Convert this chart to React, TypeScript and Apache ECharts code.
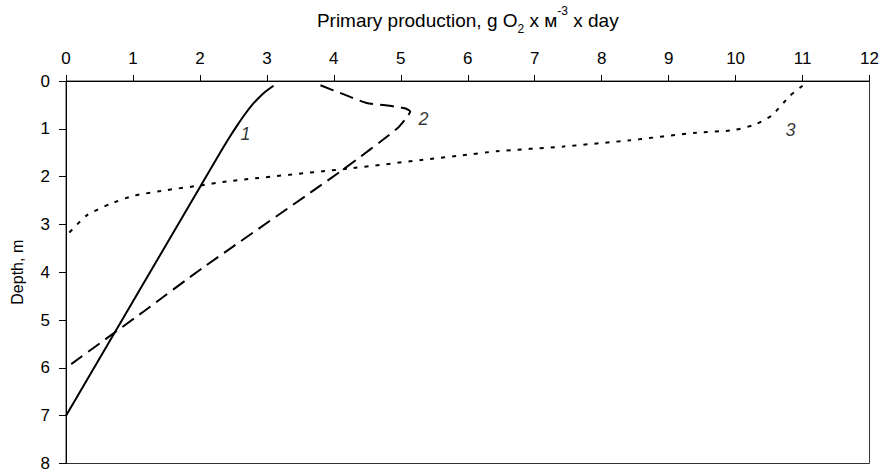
import React, { useEffect, useRef } from "react";
import * as echarts from "echarts";

const xTicks = [0, 12, 1];
const yTicks = [0, 8, 1];

// [production, depth]
const curve1: number[][] = [
  [3.1, 0.1], [2.98, 0.22], [2.88, 0.35], [2.78, 0.5], [2.68, 0.68],
  [2.58, 0.88], [2.49, 1.07], [2.4, 1.27], [2.31, 1.48], [0, 7],
];
const curve2: number[][] = [
  [3.8, 0.09], [4.15, 0.28], [4.49, 0.46], [4.84, 0.52], [5.06, 0.57],
  [5.14, 0.64], [5.1, 0.74], [4.94, 1.0], [4.14, 1.85], [2.05, 3.9],
  [1.16, 4.82], [0, 6],
];
const curve3: number[][] = [
  [11.0, 0.1], [10.81, 0.31], [10.54, 0.72], [10.29, 0.91], [9.96, 1.03],
  [9.42, 1.08], [8.42, 1.24], [7.43, 1.37], [6.43, 1.47], [5.89, 1.56],
  [5.44, 1.63], [4.29, 1.82], [2.4, 2.1], [1.98, 2.19], [1.51, 2.28],
  [1.01, 2.4], [0.66, 2.57], [0.31, 2.81], [0.04, 3.18], [0, 3.22],
];
const curveLabels = [
  { name: "1", value: [2.68, 1.11] },
  { name: "2", value: [5.34, 0.79] },
  { name: "3", value: [10.82, 1.03] },
];

const FONT = "'Liberation Sans', Arial, sans-serif";

export default function App() {
  const ref = useRef<HTMLDivElement>(null);
  useEffect(() => {
    if (!ref.current) return;
    const chart = echarts.init(ref.current, undefined, { renderer: "svg" });
    const lineBase = { type: "line", symbol: "none", smooth: 0.2, silent: true };
    chart.setOption({
      animation: false,
      backgroundColor: "#fff",
      textStyle: { fontFamily: FONT },
      grid: {
        left: 66, right: 12, top: 75, bottom: 7,
        show: true, borderColor: "#333", borderWidth: 1,
      },
      xAxis: {
        type: "value", position: "top",
        min: xTicks[0], max: xTicks[1], interval: xTicks[2],
        name: "{a|Primary production, g O}{sub|2}{a| x м}{sup|-3}{a| x day}",
        nameLocation: "middle", nameGap: 50,
        nameTextStyle: {
          rich: {
            a: { fontSize: 19, color: "#000", fontFamily: FONT, lineHeight: 22 },
            sub: { fontSize: 12, color: "#000", fontFamily: FONT, lineHeight: 22, verticalAlign: "bottom", padding: [0, 0, -4, 0] },
            sup: { fontSize: 12, color: "#000", fontFamily: FONT, lineHeight: 22, verticalAlign: "top", padding: [-4, 0, 0, 0] },
          },
        },
        axisLine: { show: true, lineStyle: { color: "#000", width: 1 } },
        axisTick: { show: true, inside: false, length: 6, lineStyle: { color: "#000" } },
        axisLabel: { margin: 14, fontSize: 17, color: "#000", fontFamily: FONT },
        splitLine: { show: false },
      },
      yAxis: {
        type: "value", inverse: true,
        min: yTicks[0], max: yTicks[1], interval: yTicks[2],
        name: "Depth, m", nameLocation: "middle", nameGap: 41, nameRotate: 90,
        nameTextStyle: { fontSize: 16, color: "#000", fontFamily: FONT },
        axisLine: { show: true, lineStyle: { color: "#000", width: 1 } },
        axisTick: { show: true, inside: false, length: 7, lineStyle: { color: "#000" } },
        axisLabel: { margin: 16, fontSize: 17, color: "#000", fontFamily: FONT },
        splitLine: { show: false },
      },
      series: [
        { ...lineBase, name: "1", data: curve1, lineStyle: { color: "#000", width: 2, type: "solid" } },
        { ...lineBase, name: "2", data: curve2, lineStyle: { color: "#000", width: 2, type: [14, 7] } },
        { ...lineBase, name: "3", data: curve3, lineStyle: { color: "#000", width: 2, type: [4, 7] } },
        {
          type: "scatter", name: "labels", data: curveLabels, symbolSize: 0, silent: true,
          label: {
            show: true, position: "inside", formatter: "{b}",
            fontSize: 18, fontStyle: "italic", color: "#000", fontFamily: FONT,
          },
        },
      ],
    });
    return () => chart.dispose();
  }, []);
  return (
    <div
      ref={ref}
      style={{ position: "fixed", left: 0, top: 0, width: 882, height: 472 }}
    />
  );
}
